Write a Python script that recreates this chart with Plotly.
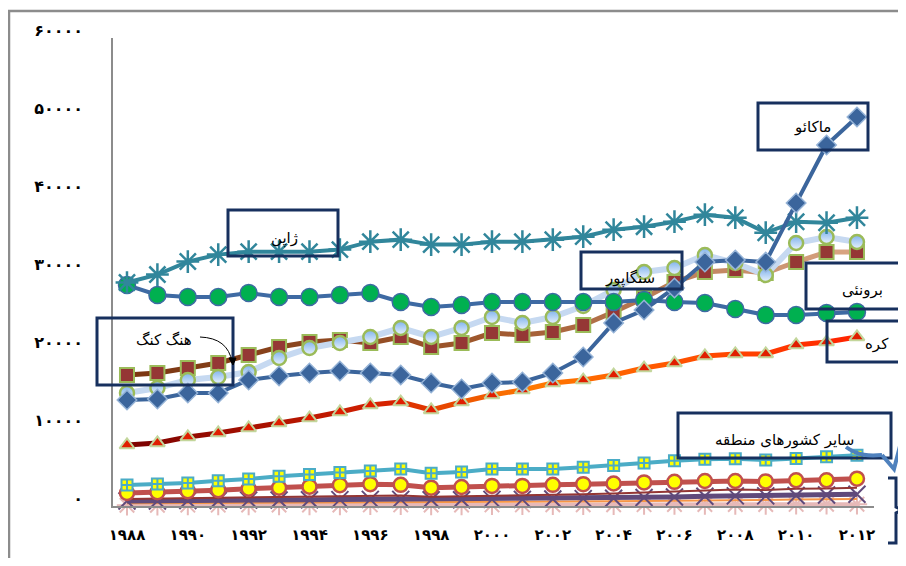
import plotly.graph_objects as go

years = list(range(1988, 2013))

japan = [28650, 29670, 31340, 32230, 32610, 32610, 32610, 32870, 33890, 34150, 33510, 33510,
         33890, 33890, 34150, 34530, 35430, 35810, 36450, 37350, 36960, 35040, 36450, 36320, 36960]
brunei = [28330, 27050, 26790, 26790, 27310, 26790, 26790, 27050, 27310, 26150, 25510, 25770,
          26150, 26150, 26150, 26150, 26150, 26410, 26150, 26020, 25260, 24490, 24490, 24740, 24870]
singapore = [14490, 15130, 16150, 16540, 17180, 18970, 20260, 20900, 21670, 22820, 21670, 22820,
             24230, 23460, 24230, 25640, 27690, 30000, 30510, 32180, 31150, 29610, 33720, 34490, 33850]
hongkong = [16790, 17050, 17690, 18330, 19360, 20380, 21020, 21280, 20900, 21670, 20380, 20900,
            22180, 21920, 22310, 23200, 24870, 26670, 28720, 30000, 30260, 29870, 31280, 32560, 32560]
macao = [13590, 13720, 14490, 14490, 16150, 16670, 17050, 17310, 17050, 16790, 15770, 15000,
         15770, 15900, 17050, 19100, 23460, 25130, 27950, 31280, 31540, 31280, 38840, 46280, 49870]
korea = [7820, 8080, 8850, 9360, 10000, 10640, 11280, 12050, 12950, 13330, 12310, 13330,
         14230, 14870, 15770, 16150, 16790, 17690, 18330, 19230, 19490, 19490, 20640, 21020, 21670]
other_a = [2690, 2820, 2960, 3230, 3460, 3820, 4050, 4280, 4500, 4730, 4190, 4370,
           4730, 4730, 4730, 4960, 5180, 5500, 5800, 6000, 6050, 5900, 6100, 6300, 6500]
other_b = [1670, 1760, 1900, 2030, 2210, 2340, 2480, 2670, 2800, 2710, 2350, 2440,
           2580, 2580, 2710, 2800, 2880, 3020, 3100, 3200, 3200, 3150, 3300, 3300, 3500]
other_c = [900, 950, 1000, 1050, 1100, 1150, 1200, 1300, 1350, 1350, 1200, 1250,
           1300, 1350, 1400, 1500, 1600, 1700, 1850, 2000, 2100, 2050, 2200, 2250, 2350]
other_d = [650, 650, 700, 700, 750, 780, 800, 820, 850, 850, 800, 800,
           850, 850, 900, 950, 1000, 1100, 1150, 1250, 1300, 1300, 1350, 1400, 1500]
other_e = [350, 360, 380, 400, 420, 440, 460, 480, 500, 500, 470, 480,
           500, 520, 540, 560, 600, 650, 700, 750, 780, 780, 820, 850, 900]
other_f = [100, 100, 110, 110, 120, 120, 130, 130, 140, 140, 130, 130,
           140, 140, 150, 150, 160, 170, 180, 190, 200, 200, 210, 220, 230]

fa_digits = str.maketrans("0123456789", "۰۱۲۳۴۵۶۷۸۹")
y_ticks = [0, 10000, 20000, 30000, 40000, 50000, 60000]
y_ticktext = [str(v).translate(fa_digits) for v in y_ticks]
x_ticks = list(range(1988, 2013, 2))
x_ticktext = [str(v).translate(fa_digits) for v in x_ticks]

labels = {
    "japan": "ژاپن",
    "hongkong": "هنگ کنگ",
    "singapore": "سنگاپور",
    "brunei": "برونئی",
    "korea": "کره",
    "macao": "ماکائو",
    "others": "سایر کشورهای منطقه",
}

# reference pixel frame (page offset of 8px from body margin is compensated)
OFF = 8
W, H = 906 - OFF, 566 - 2 * OFF
L, R, T, B = 113, 874, 38, 506


def px(x):
    return (x - L) / (R - L)


def py(y):
    return (B - y) / (B - T)


def hex2rgb(h):
    h = h.lstrip("#")
    return [int(h[i:i + 2], 16) for i in (0, 2, 4)]


def interp(stops, t):
    for (t0, c0), (t1, c1) in zip(stops[:-1], stops[1:]):
        if t0 <= t <= t1:
            f = (t - t0) / (t1 - t0) if t1 > t0 else 0
            a, b = hex2rgb(c0), hex2rgb(c1)
            return "rgb(%d,%d,%d)" % tuple(round(a[i] + (b[i] - a[i]) * f) for i in range(3))
    return stops[-1][1]


fig = go.Figure()


def gradient_line(xs, ys, stops, width):
    n = len(xs) - 1
    for i in range(n):
        fig.add_trace(go.Scatter(x=xs[i:i + 2], y=ys[i:i + 2], mode="lines",
                                 line=dict(color=interp(stops, (i + 0.5) / n), width=width),
                                 hoverinfo="skip", showlegend=False))


# bottom group
fig.add_trace(go.Scatter(x=years, y=other_f, mode="lines+markers",
                         line=dict(color="#e6b9b8", width=4),
                         marker=dict(symbol="asterisk-open", size=17, line=dict(color="#e0a8a6", width=2)),
                         showlegend=False))
fig.add_trace(go.Scatter(x=years, y=other_e, mode="lines",
                         line=dict(color="#f79646", width=2), showlegend=False))
fig.add_trace(go.Scatter(x=years, y=other_d, mode="lines+markers",
                         line=dict(color="#604a7b", width=5),
                         marker=dict(symbol="x-thin-open", size=17, line=dict(color="#7a62a0", width=2)),
                         showlegend=False))
fig.add_trace(go.Scatter(x=years, y=other_c, mode="lines",
                         line=dict(color="#943634", width=2), showlegend=False))
fig.add_trace(go.Scatter(x=years, y=other_b, mode="lines+markers",
                         line=dict(color="#c0504d", width=5),
                         marker=dict(symbol="circle", size=14, color="#ffff00",
                                     line=dict(color="#c0504d", width=2.5)),
                         showlegend=False))
fig.add_trace(go.Scatter(x=years, y=other_a, mode="lines+markers",
                         line=dict(color="#4bacc6", width=4),
                         marker=dict(symbol="square-cross", size=11, color="#ffff00",
                                     line=dict(color="#4bacc6", width=2)),
                         showlegend=False))

# Korea
gradient_line(years, korea, [(0, "#780000"), (0.35, "#d52000"), (0.55, "#ff7a00"),
                             (0.75, "#ff5500"), (1, "#ff2200")], 5)
fig.add_trace(go.Scatter(x=years, y=korea, mode="markers",
                         marker=dict(symbol="triangle-up", size=13, color="#e01e00",
                                     line=dict(color="#c3d69b", width=2)),
                         showlegend=False))

# Hong Kong
gradient_line(years, hongkong, [(0, "#7a3510"), (0.5, "#a0582e"), (1, "#d9a685")], 5)
fig.add_trace(go.Scatter(x=years, y=hongkong, mode="markers",
                         marker=dict(symbol="square", size=14, color="#953735",
                                     line=dict(color="#9bbb59", width=2)),
                         showlegend=False))

# Singapore
fig.add_trace(go.Scatter(x=years, y=singapore, mode="lines+markers",
                         line=dict(color="#c6d9f1", width=6),
                         marker=dict(symbol="circle", size=14, color="#7fb2ec",
                                     gradient=dict(type="vertical", color="#eaf3fd"),
                                     line=dict(color="#9bbb59", width=2.5)),
                         showlegend=False))

# Brunei
fig.add_trace(go.Scatter(x=years, y=brunei, mode="lines+markers",
                         line=dict(color="#3e6aa3", width=4),
                         marker=dict(symbol="circle", size=17, color="#00b050",
                                     line=dict(color="#3e6aa3", width=1.5)),
                         showlegend=False))

# Japan
fig.add_trace(go.Scatter(x=years, y=japan, mode="lines+markers",
                         line=dict(color="#31869b", width=4),
                         marker=dict(symbol="asterisk-open", size=19,
                                     line=dict(color="#31869b", width=2.5)),
                         showlegend=False))

# Macao
fig.add_trace(go.Scatter(x=years, y=macao, mode="lines+markers",
                         line=dict(color="#3b659c", width=4),
                         marker=dict(symbol="diamond", size=15, color="#3b659c",
                                     line=dict(color="#95b3d7", width=1.5)),
                         showlegend=False))

fig.update_traces(cliponaxis=False)

navy = "#17305e"
boxes = [
    ("japan", (228, 210, 338, 256), (284, 238)),
    ("hongkong", (97, 318, 233, 385), (164, 340)),
    ("singapore", (581, 252, 682, 289), (630, 278)),
    ("brunei", (806, 263, 905, 309), (862, 290)),
    ("korea", (827, 321, 905, 362), (877, 344)),
    ("macao", (758, 103, 868, 150), (812, 127)),
    ("others", (678, 413, 891, 458), (784, 440)),
]
shapes = []
annotations = []
for key, (x0, y0, x1, y1), (tx, ty) in boxes:
    shapes.append(dict(type="rect", xref="paper", yref="paper",
                       x0=px(x0), x1=px(x1), y0=py(y1), y1=py(y0),
                       line=dict(color=navy, width=3), fillcolor="rgba(0,0,0,0)", layer="above"))
    annotations.append(dict(text=labels[key], xref="paper", yref="paper", x=px(tx), y=py(ty),
                            showarrow=False, xanchor="center", yanchor="middle",
                            font=dict(family="DejaVu Sans", size=15, color="#000000")))

# outer chart border
shapes.append(dict(type="rect", xref="paper", yref="paper",
                   x0=px(9), x1=px(925), y0=py(590), y1=py(11),
                   line=dict(color="#8c8c8c", width=2.5), layer="below"))

# Hong Kong callout curve
shapes.append(dict(type="path", xref="paper", yref="paper",
                   path="M %f,%f Q %f,%f %f,%f" % (px(200), py(337), px(228), py(338), px(232), py(362)),
                   line=dict(color="#000000", width=1)))
shapes.append(dict(type="path", xref="paper", yref="paper",
                   path="M %f,%f L %f,%f L %f,%f Z" % (px(229), py(358), px(236), py(358), px(233), py(365)),
                   fillcolor="#000000", line=dict(color="#000000", width=1)))

# blue curved arrow from "others" box
shapes.append(dict(type="path", xref="paper", yref="paper",
                   path="M %f,%f C %f,%f %f,%f %f,%f" % (px(846), py(447), px(858), py(456),
                                                        px(870), py(456), px(882), py(455)),
                   line=dict(color="#4f81bd", width=4)))
shapes.append(dict(type="path", xref="paper", yref="paper",
                   path="M %f,%f L %f,%f L %f,%f" % (px(882), py(455), px(894), py(469),
                                                    px(900), py(446)),
                   line=dict(color="#4f81bd", width=4)))

# brace on the right
shapes.append(dict(type="path", xref="paper", yref="paper",
                   path="M %f,%f L %f,%f L %f,%f L %f,%f L %f,%f L %f,%f L %f,%f" % (
                       px(888), py(478), px(896), py(478), px(896), py(507),
                       px(902), py(510), px(896), py(513), px(896), py(543), px(888), py(543)),
                   line=dict(color=navy, width=3)))

fig.update_layout(
    width=W, height=H,
    margin=dict(l=L - OFF, r=906 - R, t=T - OFF, b=H - (B - OFF), pad=0),
    paper_bgcolor="white", plot_bgcolor="white",
    shapes=shapes, annotations=annotations,
    showlegend=False,
    xaxis=dict(range=[1987.54, 2012.56], tickvals=x_ticks, ticktext=x_ticktext,
               showgrid=False, zeroline=False, showline=True, linecolor="#8c8c8c", linewidth=1.5,
               ticks="", ticklabelstandoff=14,
               tickfont=dict(family="DejaVu Sans", size=15, weight="bold", color="#000000")),
    yaxis=dict(range=[0, 60000], tickvals=y_ticks, ticktext=y_ticktext,
               showgrid=False, zeroline=False, showline=True, linecolor="#8c8c8c", linewidth=1.5,
               ticks="", ticklabelstandoff=25, ticklabelshift=-8,
               tickfont=dict(family="DejaVu Sans", size=16, weight="bold", color="#000000")),
)

fig.write_html("out.html")
